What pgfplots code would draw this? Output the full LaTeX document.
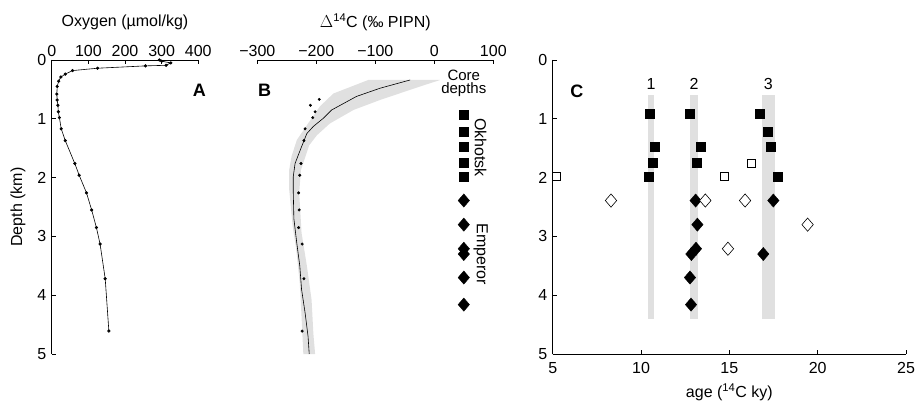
\documentclass[border=0pt]{standalone}
\usepackage{fontspec}
\setmainfont{Liberation Sans}
\usepackage{pgfplots}
\pgfplotsset{compat=1.18}
\definecolor{bandgray}{RGB}{224,224,224}
\newcommand{\fs}{\fontsize{16}{18}\selectfont}
\pgfplotsset{
  panel/.style={
    scale only axis, height=294pt,
    ymin=0, ymax=5, y dir=reverse,
    tick align=inside, major tick length=4pt,
    axis line style={-, line width=0.7pt},
    every tick/.style={black, line width=0.7pt},
    ytick={0,1,2,3,4,5},
    clip=false,
    tick label style={font=\fs},
    yticklabel style={xshift=-2pt},
    label style={font=\fs},
    /pgf/number format/assume math mode=true,
  },
  sq/.style={only marks, mark=square*, mark size=4.4pt, mark options={fill=black, draw=black}},
  osq/.style={only marks, mark=square*, mark size=4pt, mark options={fill=white, draw=black, line width=0.6pt}},
  dm/.style={only marks, mark=diamond*, mark size=6.6pt, mark options={fill=black, draw=black, xscale=1.15}},
  odm/.style={only marks, mark=diamond*, mark size=6.6pt, mark options={fill=white, draw=black, line width=0.6pt, xscale=1.15}},
}
\begin{document}
\begin{tikzpicture}[x=1pt,y=1pt]
\useasboundingbox (0,0) rectangle (917,406);

% ---- A: oxygen
\begin{axis}[panel, at={(51.7pt,52pt)}, anchor=south west, width=146.6pt,
  xmin=0, xmax=400, xtick={0,100,200,300,400},
  axis x line*=top, axis y line*=left,
  xlabel={Oxygen (µmol/kg)},
  xlabel style={at={(rel axis cs:0.5,1)}, anchor=center, yshift=38pt}]
\addplot[black, line width=0.6pt, mark=*, mark size=1.3pt] coordinates {
(294,0.00) (300,0.02) (325,0.05) (312,0.09) (256,0.10) (125,0.14) (57,0.18)
(37,0.24) (25,0.29) (19,0.36) (15,0.45) (14,0.58) (15,0.68) (17,0.77)
(18,0.88) (21,0.98) (26,1.17) (37,1.37) (63,1.76) (75,1.96) (95,2.26)
(109,2.55) (122,2.85) (132,3.13) (146,3.72) (156,4.61)};
\node[font=\fs, rotate=90] at (rel axis cs:-0.23,0.5) {Depth (km)};
\node[font=\fontsize{18}{18}\selectfont\bfseries] at (axis cs:403,0.51) {A};
\end{axis}

% ---- B: radiocarbon
\begin{axis}[panel, at={(257.3pt,52pt)}, anchor=south west, width=236pt,
  xmin=-300, xmax=100, xtick={-300,-200,-100,0,100},
  xticklabels={−300,−200,−100,0,100},
  axis x line*=top, axis y line=none,
  xlabel={$\Delta$\textsuperscript{14}C (‰ PIPN)},
  xlabel style={at={(rel axis cs:0.5,1)}, anchor=center, yshift=38pt}]
\addplot[fill=bandgray, draw=none] coordinates {
(-112,0.34) (-171,0.57) (-194,0.79) (-214,1.08) (-233,1.36) (-242,1.64)
(-246,1.87) (-246,2.20) (-240,2.83) (-234,3.23) (-228,3.80) (-225,4.37)
(-222,5.00) (-202,5.00) (-205,4.65) (-208,4.08) (-216,3.50) (-225,2.94)
(-229,2.26) (-226,1.87) (-212,1.45) (-199,1.28) (-177,1.08) (-137,0.85)
(-92,0.68) (-24,0.45) (10,0.34)} -- cycle;
\addplot[black, line width=0.6pt] coordinates {
(-41,0.34) (-92,0.48) (-132,0.62) (-174,0.85) (-188,0.99) (-205,1.13)
(-216,1.25) (-226,1.50) (-236,1.76) (-239,1.98) (-239,2.27) (-238,2.70)
(-233,3.12) (-228,3.50) (-225,3.90) (-219,4.30) (-214,4.70) (-212,5.00)};
\addplot[only marks, mark=*, mark size=1.3pt, black] coordinates {
(-195,0.67) (-210,0.77) (-202,0.88) (-206,0.98) (-219,1.17) (-221,1.37)
(-226,1.76) (-228,1.96) (-230,2.26) (-229,2.55) (-230,2.85) (-224,3.13)
(-221,3.72) (-224,4.61)};
\addplot[sq] coordinates {(50,0.93) (50,1.22) (50,1.48) (50,1.75) (50,1.98)};
\addplot[dm] coordinates {(50,2.39) (50,2.80) (50,3.21) (50,3.30) (50,3.70) (50,4.16)};
\node[font=\fontsize{15}{13}\selectfont, align=center, inner sep=0pt] at (axis cs:50,0.40) {Core\\depths};
\node[font=\fs, rotate=-90] at (axis cs:78.6,1.49) {Okhotsk};
\node[font=\fs, rotate=-90] at (axis cs:78.6,3.30) {Emperor};
\node[font=\fontsize{18}{18}\selectfont\bfseries] at (axis cs:-287.5,0.51) {B};
\end{axis}

% ---- C: ages
\begin{axis}[panel, at={(552.7pt,52pt)}, anchor=south west, width=353.3pt,
  xmin=5, xmax=25, xtick={5,10,15,20,25},
  axis x line*=bottom, axis y line*=left,
  xticklabel style={yshift=-5pt},
  xlabel={age (\textsuperscript{14}C ky)},
  xlabel style={at={(rel axis cs:0.5,0)}, anchor=center, yshift=-38pt}]
\addplot[fill=bandgray, draw=none] coordinates {(10.40,0.6) (10.74,0.6) (10.74,4.4) (10.40,4.4)} -- cycle;
\addplot[fill=bandgray, draw=none] coordinates {(12.77,0.6) (13.23,0.6) (13.23,4.4) (12.77,4.4)} -- cycle;
\addplot[fill=bandgray, draw=none] coordinates {(16.85,0.6) (17.58,0.6) (17.58,4.4) (16.85,4.4)} -- cycle;
\addplot[sq] coordinates {
(10.51,0.92) (10.79,1.48) (10.64,1.75) (10.43,1.98)
(12.74,0.92) (13.38,1.48) (13.13,1.75)
(16.74,0.92) (17.17,1.22) (17.34,1.48) (17.75,1.98)};
\addplot[osq] coordinates {(5.19,1.98) (14.74,1.98) (16.26,1.75)};
\addplot[dm] coordinates {
(13.09,2.39) (13.19,2.80) (13.11,3.21) (12.85,3.30) (12.77,3.70) (12.83,4.16)
(17.49,2.39) (16.92,3.30)};
\addplot[odm] coordinates {(8.30,2.39) (13.64,2.39) (15.89,2.39) (14.92,3.21) (19.43,2.80)};
\node[font=\fs] at (axis cs:10.57,0.40) {1};
\node[font=\fs] at (axis cs:13.00,0.40) {2};
\node[font=\fs] at (axis cs:17.20,0.40) {3};
\node[font=\fontsize{18}{18}\selectfont\bfseries] at (axis cs:6.37,0.53) {C};
\end{axis}
\end{tikzpicture}
\end{document}
